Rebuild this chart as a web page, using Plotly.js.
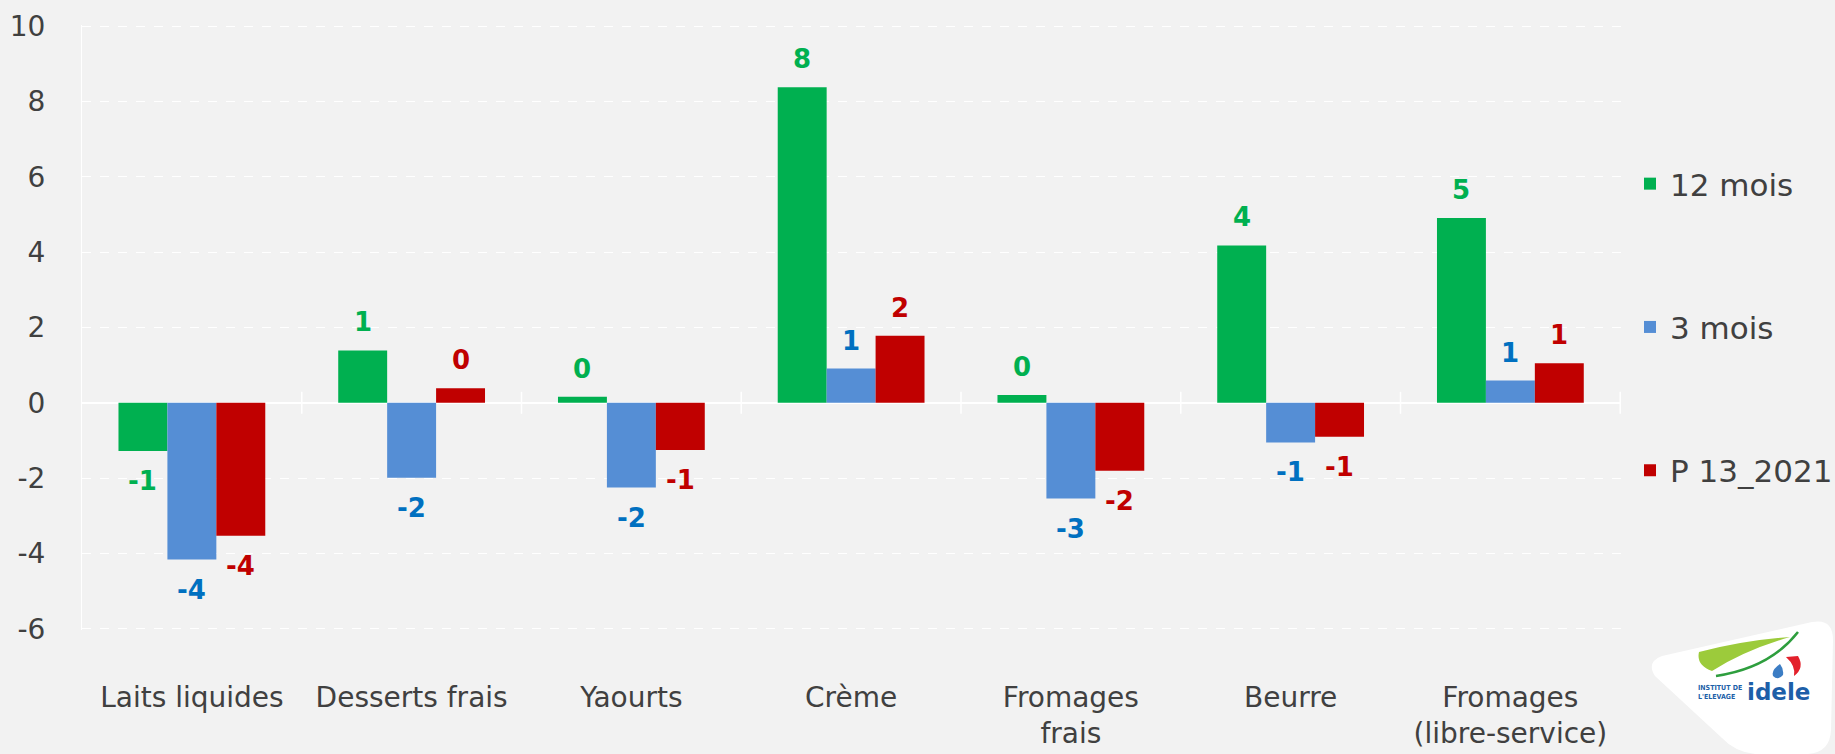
<!DOCTYPE html>
<html>
<head>
<meta charset="utf-8">
<script src="https://cdn.plot.ly/plotly-3.0.1.min.js"></script>
<style>
  html, body { margin: 0; padding: 0; background: #F2F2F2; }
  #chart { width: 1835px; height: 754px; }
</style>
</head>
<body>
<div id="chart"></div>
<script>
// ---- Data ----
const categories = ["Laits liquides", "Desserts frais", "Yaourts", "Crème", "Fromages<br>frais", "Beurre", "Fromages<br>(libre-service)"];
const seriesNames = ["12 mois", "3 mois", "P 13_2021"];
const values12mois = [-1.28, 1.39, 0.16, 8.38, 0.21, 4.18, 4.91];
const values3mois = [-4.16, -1.99, -2.25, 0.91, -2.54, -1.05, 0.59];
const valuesP13 = [-3.53, 0.39, -1.25, 1.78, -1.80, -0.90, 1.05];
const yTickVals = [-6, -4, -2, 0, 2, 4, 6, 8, 10];

// ---- Styling ----
const barColors = ["#00B050", "#558ED5", "#C00000"];
const labelColors = ["#00B050", "#0070C0", "#C00000"];
const fontFamily = "'DejaVu Sans', 'Open Sans', sans-serif";
const W = 1835, H = 754;
const M = { l: 82, r: 214, t: 25, b: 124, autoexpand: false };
const PW = W - M.l - M.r, PH = H - M.t - M.b;
const px = x => (x - M.l) / PW;
const py = y => (H - M.b - y) / PH;

const allSeries = [values12mois, values3mois, valuesP13];

const traces = allSeries.map((vals, i) => ({
  type: "bar",
  name: seriesNames[i],
  x: categories,
  y: vals,
  marker: { color: barColors[i] },
  legendgroup: "g" + i,
  hoverinfo: "x+y+name"
}));

// data labels
const annotations = [];
const groupOffsets = [-49, 0, 49];
allSeries.forEach((vals, i) => {
  vals.forEach((v, j) => {
    const r = Math.round(v);
    annotations.push({
      x: categories[j], y: v, xref: "x", yref: "y",
      text: String(r === 0 ? 0 : r),
      showarrow: false,
      xshift: groupOffsets[i],
      yshift: v >= 0 ? 11 : -13,
      yanchor: v >= 0 ? "bottom" : "top",
      font: { family: fontFamily, size: 26, color: labelColors[i], weight: "bold" }
    });
  });
});

// logo texts
const smallLogoFont = { family: "'Liberation Sans Narrow', 'DejaVu Sans Condensed', sans-serif", size: 7, color: "#1D5FA8" };
annotations.push({
  xref: "paper", yref: "paper", x: px(1696), y: py(688), xanchor: "left", yanchor: "middle",
  text: "<b>INSTITUT DE</b>", showarrow: false, font: smallLogoFont
});
annotations.push({
  xref: "paper", yref: "paper", x: px(1696), y: py(697), xanchor: "left", yanchor: "middle",
  text: "<b>L'ELEVAGE</b>", showarrow: false, font: smallLogoFont
});
annotations.push({
  xref: "paper", yref: "paper", x: px(1745), y: py(692), xanchor: "left", yanchor: "middle",
  text: "<b>idele</b>", showarrow: false,
  font: { family: "'DejaVu Sans', sans-serif", size: 23, color: "#1D5FA8" }
});

// shapes: category tick marks crossing the zero line + logo
const shapes = [];
for (let k = 0; k < categories.length; k++) {
  shapes.push({
    type: "line", xref: "x", yref: "y", x0: k + 0.5, x1: k + 0.5,
    ysizemode: "pixel", yanchor: 0, y0: -11, y1: 11,
    line: { color: "#FFFFFF", width: 1.5 }, layer: "above"
  });
}
function pathFrom(pts) {
  return pts.map(s => {
    const cmd = s[0];
    const nums = s.slice(1);
    let out = cmd;
    for (let q = 0; q < nums.length; q += 2) {
      out += " " + px(nums[q]).toFixed(5) + "," + py(nums[q + 1]).toFixed(5);
    }
    return out;
  }).join(" ");
}
// white logo plate
shapes.push({
  type: "path", xref: "paper", yref: "paper", layer: "above",
  path: pathFrom([
    ["M", 1655, 676],
    ["Q", 1646, 662, 1662, 656],
    ["L", 1812, 622],
    ["Q", 1833, 618, 1833, 640],
    ["L", 1831, 730],
    ["Q", 1830, 756, 1800, 754],
    ["L", 1755, 754],
    ["Q", 1735, 752, 1722, 738],
    ["Z"]
  ]),
  fillcolor: "#FFFFFF", line: { width: 0 }
});
// light green swoosh
shapes.push({
  type: "path", xref: "paper", yref: "paper", layer: "above",
  path: pathFrom([
    ["M", 1699, 652],
    ["Q", 1745, 640, 1790, 637],
    ["Q", 1745, 650, 1712, 671],
    ["Q", 1696, 665, 1699, 652],
    ["Z"]
  ]),
  fillcolor: "#9CCB3B", line: { width: 0 }
});
// dark green stroke
shapes.push({
  type: "path", xref: "paper", yref: "paper", layer: "above",
  path: pathFrom([
    ["M", 1716, 676],
    ["Q", 1770, 668, 1798, 632]
  ]),
  line: { color: "#2E9E3E", width: 2.5 }
});
// red drop
shapes.push({
  type: "path", xref: "paper", yref: "paper", layer: "above",
  path: pathFrom([
    ["M", 1786, 657],
    ["L", 1798, 656],
    ["Q", 1805, 668, 1794, 676],
    ["Q", 1796, 666, 1786, 657],
    ["Z"]
  ]),
  fillcolor: "#E3202B", line: { width: 0 }
});
// blue drop
shapes.push({
  type: "path", xref: "paper", yref: "paper", layer: "above",
  path: pathFrom([
    ["M", 1780, 664],
    ["Q", 1771, 670, 1773, 676],
    ["Q", 1778, 681, 1783, 675],
    ["Q", 1784, 669, 1780, 664],
    ["Z"]
  ]),
  fillcolor: "#3C7DC4", line: { width: 0 }
});

const layout = {
  width: W, height: H,
  margin: M,
  paper_bgcolor: "#F2F2F2",
  plot_bgcolor: "#F2F2F2",
  barmode: "group",
  bargap: 0.332,
  bargroupgap: 0,
  font: { family: fontFamily, color: "#404040" },
  showlegend: true,
  legend: {
    x: px(1630), xanchor: "left",
    y: py(157), yanchor: "top",
    bgcolor: "rgba(0,0,0,0)",
    font: { family: fontFamily, size: 31, color: "#404040" },
    tracegroupgap: 100,
    traceorder: "grouped"
  },
  xaxis: {
    type: "category",
    tickfont: { family: fontFamily, size: 28, color: "#404040" },
    ticks: "",
    showgrid: false,
    showline: false,
    zeroline: false,
    ticklabelstandoff: 48,
    fixedrange: true
  },
  yaxis: {
    range: [-6.03, 10.03],
    tickvals: yTickVals,
    ticktext: yTickVals.map(String),
    tickfont: { family: fontFamily, size: 28, color: "#404040" },
    showgrid: true,
    gridcolor: "#FFFFFF",
    griddash: "dash",
    gridwidth: 1,
    zeroline: true,
    zerolinecolor: "#FFFFFF",
    zerolinewidth: 1.5,
    showline: true,
    linecolor: "#FFFFFF",
    linewidth: 1,
    ticks: "",
    ticklabelstandoff: 30,
    fixedrange: true
  },
  annotations: annotations,
  shapes: shapes
};

Plotly.newPlot("chart", traces, layout, { displayModeBar: false, staticPlot: true });
</script>
</body>
</html>
